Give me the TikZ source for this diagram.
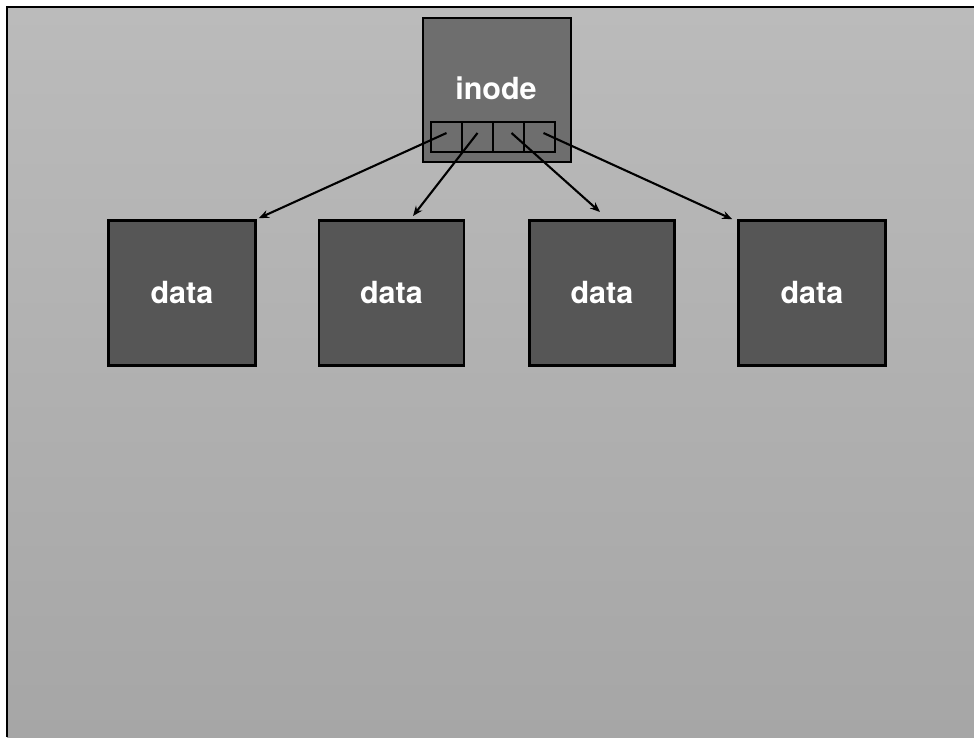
\documentclass[tikz,border=0pt]{standalone}
\usepackage{fontspec}
\setmainfont{TeX Gyre Heros}
\usetikzlibrary{arrows.meta,positioning}
\definecolor{slatetop}{HTML}{BBBBBB}
\definecolor{slatebot}{HTML}{A6A6A6}
\definecolor{inodefill}{HTML}{6E6E6E}
\definecolor{datafill}{HTML}{565656}
\tikzset{
  block/.style={draw=black, line width=2.6pt, inner sep=0pt,
    font=\fontsize{30.5}{33}\selectfont\bfseries, text=white},
  datablock/.style={block, fill=datafill, minimum width=147pt, minimum height=145pt},
  inodeblock/.style={block, fill=inodefill, minimum width=148pt, minimum height=144pt},
  cell/.style={draw=black, line width=2.4pt, fill=inodefill, inner sep=0pt,
    minimum width=31pt, minimum height=30pt},
  ptr/.style={line width=2.1pt, -{Stealth[length=10pt,width=8pt]}}
}
\begin{document}
\begin{tikzpicture}[x=1pt,y=-1pt]
  % page and slide background
  \useasboundingbox (0,0) rectangle (974,737);
  \fill[white] (0,0) rectangle (974,737);
  \shade[top color=slatetop, bottom color=slatebot] (7,7) rectangle (974,737);
  \draw[line width=2.6pt] (7,737) -- (7,7) -- (974,7);

  % inode with its four block pointers
  \node[inodeblock] (inode) at (497,90) {};
  \node[block, draw=none, fill=none] (ilabel) at (496,88) {inode};
  \node[cell] (c1) at (446.5,137) {};
  \node[cell] (c2) at (477.5,137) {};
  \node[cell] (c3) at (508.5,137) {};
  \node[cell] (c4) at (539.5,137) {};

  % data blocks
  \node[datablock] (d1) at (182,293) {data};
  \node[datablock, minimum width=145pt] (d2) at (391.5,293) {data};
  \node[datablock, minimum width=145pt] (d3) at (602,293) {data};
  \node[datablock] (d4) at (812,293) {data};

  % arrow targets
  \coordinate (t1) at ([xshift=2pt,yshift=1pt]d1.north east);
  \coordinate (t2) at (413,216);
  \coordinate (t3) at (600,212);
  \coordinate (t4) at ([xshift=-5pt]d4.north west);

  \draw[ptr] ([yshift=4pt]c1.center) -- (t1);
  \draw[ptr] ([yshift=4pt]c2.center) -- (t2);
  \draw[ptr] ([xshift=3pt,yshift=4pt]c3.center) -- (t3);
  \draw[ptr] ([xshift=4pt,yshift=4pt]c4.center) -- (t4);
\end{tikzpicture}
\end{document}
